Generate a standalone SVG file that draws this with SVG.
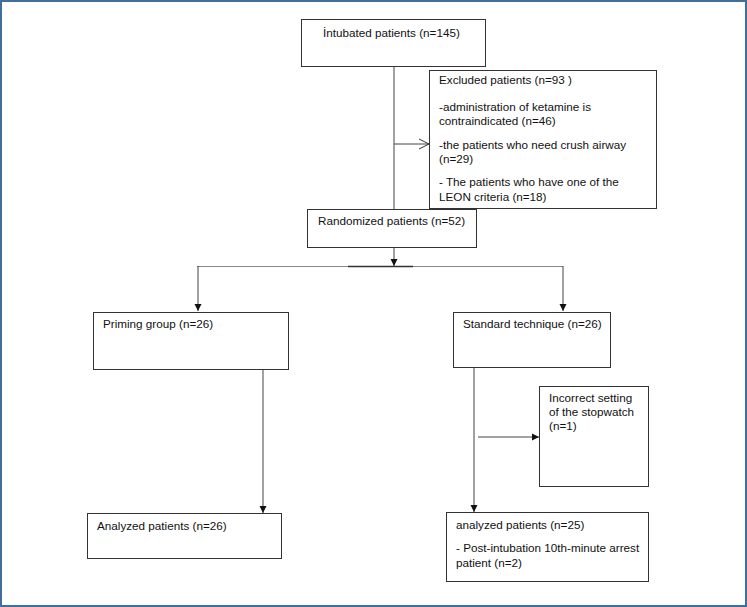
<svg xmlns="http://www.w3.org/2000/svg" width="747" height="607" viewBox="0 0 747 607">
<style>
text{font-family:"Liberation Sans",Arial,sans-serif;font-size:11.7px;fill:#111}
.box{fill:#fff;stroke:#333;stroke-width:1}
.ln{fill:none;stroke:#444;stroke-width:1}
</style>
<defs>
<marker id="fa" markerWidth="8" markerHeight="8" refX="7" refY="4" orient="auto" markerUnits="userSpaceOnUse">
<path d="M0,0.5 L7,4 L0,7.5 Z" fill="#111"/>
</marker>
<marker id="oa" markerWidth="12" markerHeight="12" refX="11" refY="6" orient="auto" markerUnits="userSpaceOnUse">
<path d="M1,1 L11,6 L1,11" fill="none" stroke="#333" stroke-width="1"/>
</marker>
</defs>
<rect x="1" y="1" width="745" height="605" fill="#fff" stroke="#3f6f9a" stroke-width="2"/>
<g id="connectors">
<line class="ln" x1="394" y1="66" x2="394" y2="209"/>
<line class="ln" x1="394" y1="144" x2="429" y2="144" marker-end="url(#oa)"/>
<line class="ln" x1="394" y1="248" x2="394" y2="266" marker-end="url(#fa)"/>
<line x1="197" y1="266.5" x2="563" y2="266.5" stroke="#888" stroke-width="1"/>
<line x1="348" y1="266.5" x2="413" y2="266.5" stroke="#333" stroke-width="1.5"/>
<line class="ln" x1="198" y1="266" x2="198" y2="311" marker-end="url(#fa)"/>
<line class="ln" x1="563" y1="266" x2="563" y2="311" marker-end="url(#fa)"/>
<line class="ln" x1="263" y1="369" x2="263" y2="513" marker-end="url(#fa)"/>
<line class="ln" x1="474" y1="367" x2="474" y2="512" marker-end="url(#fa)"/>
<line class="ln" x1="478" y1="437" x2="539" y2="437" marker-end="url(#fa)"/>
</g>
<g id="intubated">
<rect class="box" x="301.5" y="19.5" width="184" height="47"/>
<text x="323" y="37">İntubated patients (n=145)</text>
</g>
<g id="excluded">
<rect class="box" x="429.5" y="70.5" width="227" height="138"/>
<text x="439" y="84">Excluded patients (n=93 )</text>
<text x="439" y="111">-administration of ketamine is</text>
<text x="439" y="125">contraindicated (n=46)</text>
<text x="439" y="149">-the patients who need crush airway</text>
<text x="439" y="163">(n=29)</text>
<text x="439" y="186">- The patients who have one of the</text>
<text x="439" y="201">LEON criteria (n=18)</text>
</g>
<g id="randomized">
<rect class="box" x="307.5" y="209.5" width="169" height="38"/>
<text x="318" y="225">Randomized patients (n=52)</text>
</g>
<g id="priming">
<rect class="box" x="93.5" y="312.5" width="195" height="57"/>
<text x="103" y="328">Priming group (n=26)</text>
</g>
<g id="standard">
<rect class="box" x="453.5" y="312.5" width="157" height="55"/>
<text x="463" y="328">Standard technique (n=26)</text>
</g>
<g id="incorrect">
<rect class="box" x="539.5" y="386.5" width="109" height="100"/>
<text x="549" y="402">Incorrect setting</text>
<text x="549" y="416">of the stopwatch</text>
<text x="549" y="430">(n=1)</text>
</g>
<g id="analyzed-left">
<rect class="box" x="87.5" y="513.5" width="194" height="45"/>
<text x="97" y="530">Analyzed patients (n=26)</text>
</g>
<g id="analyzed-right">
<rect class="box" x="446.5" y="512.5" width="202" height="69"/>
<text x="456" y="529">analyzed patients (n=25)</text>
<text x="456" y="552">- Post-intubation 10th-minute arrest</text>
<text x="456" y="567">patient (n=2)</text>
</g>
</svg>
